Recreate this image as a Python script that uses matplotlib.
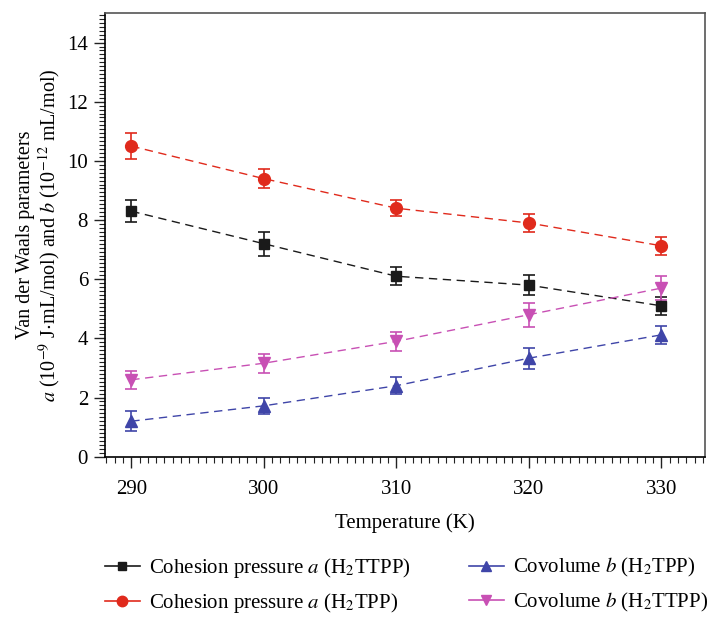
import matplotlib
matplotlib.use("Agg")
import matplotlib.pyplot as plt
from matplotlib.lines import Line2D
from matplotlib.ticker import AutoMinorLocator

plt.rcParams["font.family"] = ["Liberation Serif", "DejaVu Serif"]
plt.rcParams["mathtext.fontset"] = "stix"

temperature = [290, 300, 310, 320, 330]

a_h2ttpp = [8.3, 7.2, 6.1, 5.8, 5.1]
a_h2ttpp_err = [0.37, 0.40, 0.30, 0.35, 0.30]

a_h2tpp = [10.5, 9.4, 8.4, 7.9, 7.13]
a_h2tpp_err = [0.43, 0.33, 0.28, 0.30, 0.30]

b_h2tpp = [1.2, 1.72, 2.4, 3.33, 4.12]
b_h2tpp_err = [0.33, 0.27, 0.28, 0.35, 0.30]

b_h2ttpp = [2.6, 3.16, 3.9, 4.8, 5.7]
b_h2ttpp_err = [0.30, 0.32, 0.32, 0.40, 0.40]

labels = [
    r"Cohesion pressure $a$ (H$_2$TTPP)",
    r"Cohesion pressure $a$ (H$_2$TPP)",
    r"Covolume $b$ (H$_2$TPP)",
    r"Covolume $b$ (H$_2$TTPP)",
]
series = [
    (a_h2ttpp, a_h2ttpp_err, "#1a1a1a", "s", 7),
    (a_h2tpp, a_h2tpp_err, "#e02a1c", "o", 8.5),
    (b_h2tpp, b_h2tpp_err, "#3f45a8", "^", 8.5),
    (b_h2ttpp, b_h2ttpp_err, "#c850b4", "v", 8.5),
]

fig = plt.figure(figsize=(7.08, 6.18), dpi=100)
ax = fig.add_axes([0.148, 0.261, 0.848, 0.718])

handles = []
for (vals, errs, color, marker, ms), label in zip(series, labels):
    ax.errorbar(temperature, vals, yerr=errs, color=color, marker=marker,
                markersize=ms, linestyle=(0, (6, 4)), linewidth=1.0,
                elinewidth=1.2, capsize=4, capthick=1.2)
    handles.append(Line2D([], [], color=color, marker=marker,
                          markersize=ms - 1, linewidth=1.2, label=label))

ax.set_xlim(288, 333.3)
ax.set_ylim(0, 15)
ax.set_xticks(temperature)
ax.set_yticks([0, 2, 4, 6, 8, 10, 12, 14])
ax.xaxis.set_minor_locator(AutoMinorLocator(16))
ax.yaxis.set_minor_locator(AutoMinorLocator(15))
ax.tick_params(which="major", length=8, width=1.0, labelsize=15,
               color="#222222", pad=4)
ax.tick_params(axis="x", which="major", pad=9)
ax.tick_params(which="minor", length=4, width=0.8, color="#222222")
for side in ["top", "right"]:
    ax.spines[side].set_color("#555555")
for spine in ax.spines.values():
    spine.set_linewidth(1.2)

ax.set_xlabel("Temperature (K)", fontsize=15, labelpad=10)
ax.set_ylabel("Van der Waals parameters\n"
              r"$a$ (10$^{-9}$ J$\cdot$mL/mol) and $b$ (10$^{-12}$ mL/mol)",
              fontsize=14.5, labelpad=4, linespacing=1.05)

fig.legend(handles=handles, ncol=2, loc="upper left",
           bbox_to_anchor=(0.136, 0.114), borderaxespad=0, frameon=False,
           fontsize=15, handlelength=1.7, handletextpad=0.45,
           columnspacing=2.75, labelspacing=0.55)

fig.savefig("out.png", dpi=100)
